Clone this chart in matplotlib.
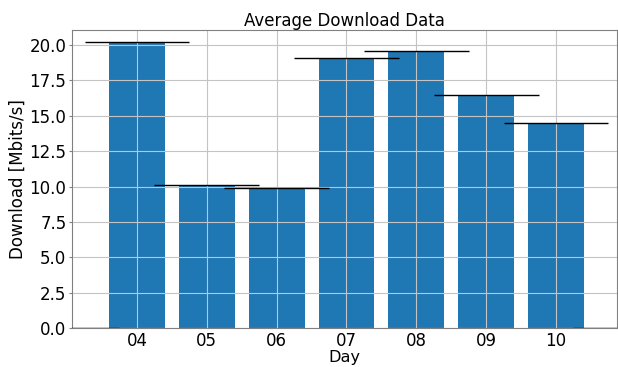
import numpy as np
import matplotlib
matplotlib.use("Agg")
import matplotlib.pyplot as plt

# 日ごとの平均ダウンロード速度
DAYS = ["04", "05", "06", "07", "08", "09", "10"]
MEAN_DOWNLOAD = [20.21, 10.1, 9.92, 19.06, 19.58, 16.49, 14.47]

# 平均線（前後の日は 0）
LINE_DAYS = ["03"] + DAYS + ["11"]
LINE_VALUES = [0.0] + MEAN_DOWNLOAD + [0.0]

BAR_COLOR = "#1f77b4"
GRID_COLOR = "#c4c4c4"
SPINE_COLOR = "#808080"


def main():
    fig = plt.figure(figsize=(6.18, 3.67), dpi=100)
    ax = fig.add_axes([0.1165, 0.106, 0.8815, 0.812])

    x = np.arange(len(DAYS))
    ax.bar(x, MEAN_DOWNLOAD, width=0.8, color=BAR_COLOR)

    xl = np.arange(len(LINE_DAYS)) - 1
    ax.hlines(LINE_VALUES, xl - 0.75, xl + 0.75, colors="black", linewidth=1.0, zorder=3)

    ax.set_xlim(-0.93, 6.87)
    ax.set_ylim(0, 21.06)
    ax.set_yticks(np.arange(0, 20.1, 2.5))
    ax.set_xticks(x)
    ax.set_xticklabels(DAYS)

    ax.grid(True, color=GRID_COLOR, linewidth=0.8)
    for s in ax.spines.values():
        s.set_color(SPINE_COLOR)
    ax.tick_params(axis="both", labelsize=12, colors="black")
    ax.tick_params(axis="y", length=2.5, pad=1.5, color=SPINE_COLOR)
    ax.tick_params(axis="x", length=0, pad=3)

    ax.set_title("Average Download Data", fontsize=12, pad=3)
    ax.set_xlabel("Day", fontsize=11.6, labelpad=0)
    ax.set_ylabel("Download [Mbits/s]", fontsize=12, labelpad=2)

    fig.savefig("out.png", dpi=100)


if __name__ == "__main__":
    main()
